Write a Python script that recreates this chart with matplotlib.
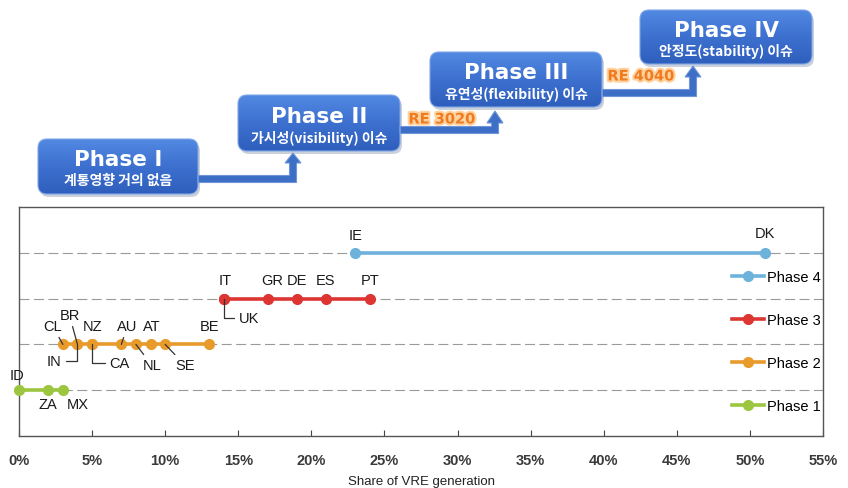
import numpy as np
import matplotlib.pyplot as plt
from matplotlib.patches import FancyBboxPatch, Polygon
from matplotlib.colors import LinearSegmentedColormap
import matplotlib.patheffects as pe

# share of VRE generation (%) by country, grouped by integration phase
phase1_countries = ['ID', 'ZA', 'MX']
phase1_share = [0, 2, 3]
phase2_countries = ['CL', 'IN', 'BR', 'NZ', 'CA', 'AU', 'NL', 'AT', 'SE', 'BE']
phase2_share = [3, 4, 4, 5, 5, 7, 8, 9, 10, 13]
phase3_countries = ['IT', 'UK', 'GR', 'DE', 'ES', 'PT']
phase3_share = [14, 14, 17, 19, 21, 24]
phase4_countries = ['IE', 'DK']
phase4_share = [23, 51]

phase_names = ['Phase 1', 'Phase 2', 'Phase 3', 'Phase 4']
phase_colors = ['#9cc63f', '#e89b2b', '#dc3532', '#6db2da']
xticks = list(range(0, 56, 5))

# stage diagram text
stage_titles = ['Phase I', 'Phase II', 'Phase III', 'Phase IV']
stage_subtitles = ['계통영향 거의 없음', '가시성(visibility) 이슈',
                   '유연성(flexibility) 이슈', '안정도(stability) 이슈']
threshold_labels = ['', 'RE 3020', 'RE 4040']

# label placement: offset in pixels from the point, leader style
label_layout = {
    'ID': (-2, 15, None), 'ZA': (0, -14, None), 'MX': (15, -14, None),
    'CL': (-10, 18, 'line'), 'IN': (-23, -17, 'elbowA'), 'BR': (-8, 29, 'line'),
    'NZ': (0, 18, None), 'CA': (27, -19, 'elbowB'), 'AU': (6, 18, 'line'),
    'NL': (16, -21, 'line'), 'AT': (1, 18, None), 'SE': (20, -21, 'line'),
    'BE': (0, 18, None),
    'IT': (2, 19, None), 'UK': (25, -19, 'elbowB'), 'GR': (5, 19, None),
    'DE': (0, 19, None), 'ES': (0, 19, None), 'PT': (0, 19, None),
    'IE': (0, 18, None), 'DK': (0, 20, None),
}

W, H = 848, 489
fig = plt.figure(figsize=(W / 100, H / 100), dpi=100)

# ---- bottom chart ----
ax = fig.add_axes([19 / W, 52 / H, 804 / W, 229 / H])
ax.set_xlim(0, 55)
ax.set_ylim(0, 5)
for y in range(1, 5):
    ax.axhline(y, color='#9a9a9a', lw=0.8, ls=(0, (9, 4)), zorder=1)

groups = [(phase1_countries, phase1_share), (phase2_countries, phase2_share),
          (phase3_countries, phase3_share), (phase4_countries, phase4_share)]
handles = []
for level, ((names, share), label, color) in enumerate(
        zip(groups, phase_names, phase_colors), start=1):
    h, = ax.plot(share, [level] * len(share), '-o', color=color, lw=2.6,
                 ms=7, label=label, zorder=3, clip_on=False)
    handles.append(h)
    for name, x in zip(names, share):
        dx, dy, leader = label_layout[name]
        props = None
        if leader == 'line':
            props = dict(arrowstyle='-', color='#333333', lw=0.9,
                         shrinkA=1, shrinkB=0)
        elif leader == 'elbowA':
            props = dict(arrowstyle='-', color='#333333', lw=0.9, shrinkA=1,
                         shrinkB=0, connectionstyle='angle,angleA=0,angleB=90,rad=0')
        elif leader == 'elbowB':
            props = dict(arrowstyle='-', color='#333333', lw=0.9, shrinkA=1,
                         shrinkB=0, connectionstyle='angle,angleA=180,angleB=90,rad=0')
        ax.annotate(name, (x, level), xytext=(dx, dy), textcoords='offset pixels',
                    ha='center', va='center', fontsize=10.5,
                    family='Liberation Sans', color='#1a1a1a',
                    arrowprops=props, zorder=4, annotation_clip=False)

ax.set_yticks([])
ax.set_xticks(xticks)
ax.set_xticklabels([f'{t}%' for t in xticks], family='Liberation Sans',
                   fontsize=10.5, fontweight='bold', color='#3a3a3a')
ax.tick_params(axis='x', direction='in', length=4, pad=12, color='#444444')
for s in ax.spines.values():
    s.set_color('#555555')
    s.set_linewidth(1)
ax.set_xlabel('Share of VRE generation', fontsize=9.5, labelpad=6,
              family='Liberation Sans', color='#222222')

ax.legend(handles[::-1], phase_names[::-1], loc='center right',
          bbox_to_anchor=(0.997, 0.413), frameon=False,
          prop={'family': 'Liberation Sans', 'size': 10.5},
          handlelength=2.2, handletextpad=0.2, labelspacing=2.0,
          borderpad=0, borderaxespad=0)

# ---- stage diagram (pixel coordinates) ----
deco = fig.add_axes([0, 0, 1, 1])
deco.set_xlim(0, W)
deco.set_ylim(H, 0)
deco.set_axis_off()

boxes = [(38, 140, 198, 195), (238, 96, 400, 152),
         (430, 53, 602, 108), (640, 11, 812, 65)]
grad = np.linspace(0, 1, 64).reshape(-1, 1)
box_cmap = LinearSegmentedColormap.from_list('box', ['#5189e2', '#3d70cf', '#2f5fbd'])

for (x0, y0, x1, y1), title, sub in zip(boxes, stage_titles, stage_subtitles):
    shadow = FancyBboxPatch((x0 + 2, y0 + 3), x1 - x0, y1 - y0,
                            boxstyle='round,pad=0,rounding_size=9',
                            fc='#a9b3c4', ec='none', alpha=0.6, zorder=1)
    deco.add_patch(shadow)
    box = FancyBboxPatch((x0, y0), x1 - x0, y1 - y0,
                         boxstyle='round,pad=0,rounding_size=9',
                         fc='none', ec='#7fa6e6', lw=0.8, zorder=3)
    deco.add_patch(box)
    im = deco.imshow(grad, cmap=box_cmap, extent=(x0, x1, y1, y0),
                     aspect='auto', interpolation='bilinear', zorder=2)
    im.set_clip_path(box)
    cx = (x0 + x1) / 2
    deco.text(cx, y0 + (y1 - y0) * 0.37, title, ha='center', va='center',
              color='white', fontsize=15.5, fontweight='bold',
              family='DejaVu Sans', zorder=4)
    deco.text(cx, y0 + (y1 - y0) * 0.75, sub, ha='center', va='center',
              color='white', fontsize=10, fontweight='bold',
              family=['Noto Sans CJK KR', 'DejaVu Sans'], zorder=4)

# L-shaped arrows between stages: start x, shaft y, riser x, head tip y, head base y
arrows = [(198, 180, 293, 154, 164), (400, 131, 495, 112, 124),
          (602, 94, 693, 67, 78)]
label_pos = [None, (442, 120), (641, 77)]
t, w = 3.5, 8
for (x0, yc, x1, yt, yb), lab, pos in zip(arrows, threshold_labels, label_pos):
    pts = [(x0, yc - t), (x1 - t, yc - t), (x1 - t, yb), (x1 - w, yb), (x1, yt),
           (x1 + w, yb), (x1 + t, yb), (x1 + t, yc + t), (x0, yc + t)]
    deco.add_patch(Polygon(pts, closed=True, fc='#3d6fc6', ec='#6f95d8',
                           lw=0.8, zorder=2))
    if lab:
        deco.text(pos[0], pos[1], lab, ha='center', va='center',
                  color='#f07a1e', fontsize=10.5, fontweight='bold',
                  family='DejaVu Sans', zorder=5,
                  path_effects=[pe.withStroke(linewidth=3, foreground='#ffd2a0')])

fig.savefig('out.png', dpi=100)
